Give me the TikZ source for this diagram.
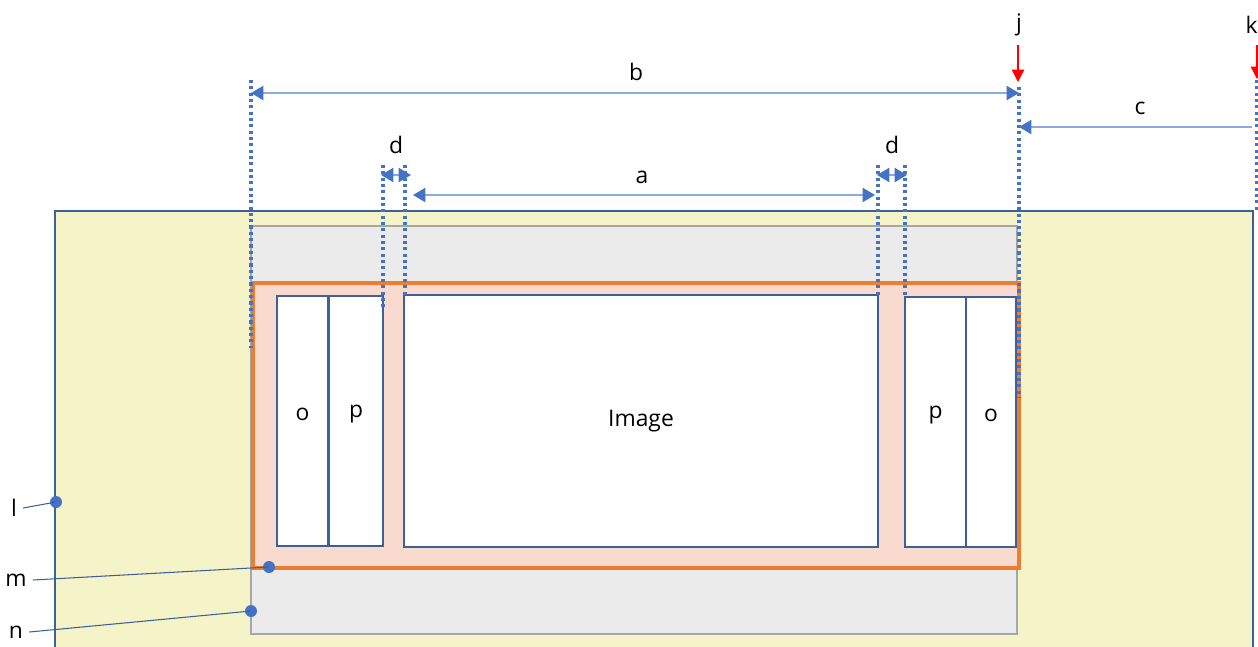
\documentclass[tikz,border=0pt]{standalone}
\usepackage{fontspec}
\setmainfont{Open Sans}
\usepackage{tikz}
\usetikzlibrary{positioning,arrows.meta}
\usepackage{xcolor}
\definecolor{padyellow}{RGB}{245,243,200}
\definecolor{framegray}{RGB}{235,235,235}
\definecolor{edgegray}{RGB}{166,166,166}
\definecolor{safesalmon}{RGB}{248,219,206}
\definecolor{safeorange}{RGB}{237,125,49}
\definecolor{boxnavy}{RGB}{63,95,154}
\definecolor{guideblue}{RGB}{68,114,196}
\definecolor{dimblue}{RGB}{143,170,220}

\begin{document}
\begin{tikzpicture}[x=0.02cm,y=-0.02cm,
  every node/.style={font=\fontsize{13}{15}\selectfont},
  panel/.style={rectangle,draw=boxnavy,line width=1.1pt,fill=white,inner sep=0pt},
  guide/.style={guideblue,line width=2pt,dash pattern=on 1.8pt off 1.8pt},
  dimline/.style={dimblue,line width=1pt},
  tip/.tip={Triangle[length=7pt,width=8pt,color=guideblue]},
  marker/.style={-{Triangle[length=7pt,width=7pt]},red,line width=0.7pt},
  dot/.style={circle,fill=guideblue,inner sep=0pt,minimum size=0.24cm},
  callout/.style={boxnavy,line width=0.6pt}]
\useasboundingbox (0,0) rectangle (1258,646);
% Pad area
\fill[padyellow] (55,211) rectangle (1253,660);
\draw[boxnavy,line width=1.2pt] (55,660) -- (55,211) -- (1253,211) -- (1253,660);
% Frame and safe area
\draw[edgegray,fill=framegray,line width=1.2pt] (251,226) rectangle (1017,634);
\draw[safeorange,fill=safesalmon,line width=2pt] (253,283) rectangle (1019,568);
% Panels
\node[panel,minimum width=1.02cm,minimum height=5cm] (oL) at (302.5,421) {};
\node[panel,minimum width=1.08cm,minimum height=5cm] (pL) at (356,421) {};
\node[panel,minimum width=9.48cm,minimum height=5.04cm] (img) at (641,421) {Image};
\node[panel,minimum width=1.22cm,minimum height=5cm] (pR) at (935.5,422) {};
\node[panel,minimum width=1cm,minimum height=5cm] (oR) at (991,422) {};
\node (txtOL) at ([yshift=4pt]oL.center) {o};
\node (txtPL) at ([yshift=4pt]pL.center) {p};
\node (txtPR) at ([yshift=4pt]pR.center) {p};
\node (txtOR) at ([yshift=4pt]oR.center) {o};
% Guides
\foreach \name/\x/\ya/\yb in {gB/251/80/348, gJ/1019/87/398, gD1/383/165/307, gD2/405/165/295,
                              gD3/878/165/295, gD4/905/165/297, gK/1257/80/210} {
  \coordinate (\name top) at (\x,\ya);
  \coordinate (\name bot) at (\x,\yb);
  \draw[guide] (\name top) -- (\name bot);
}
% Dimensions
\coordinate (bL) at (251,93);
\coordinate (bR) at (1019,93);
\draw[dimline,tip-tip] (bL) -- (bR);
\node (labB) at (636,72) {b};
\coordinate (aL) at (413,195);
\coordinate (aR) at (875,195);
\draw[dimline,tip-tip] (aL) -- (aR);
\node (labA) at (642,177) {a};
\foreach \i/\xa/\xb in {1/381/411, 2/877/907} {
  \coordinate (dL\i) at (\xa,175);
  \coordinate (dR\i) at (\xb,175);
  \draw[dimline,tip-tip] (dL\i) -- (dR\i);
  \node (labD\i) at ({(\xa+\xb)/2},145) {d};
}
\coordinate (cS) at (1252,127);
\coordinate (cE) at (1019,127);
\draw[dimline,-tip] (cS) -- (cE);
\node (labC) at (1140,108) {c};
% Edge markers
\node (labJ) at (1019,25) {j};
\node[anchor=east,inner xsep=0pt] (labK) at (1258,25) {k};
\coordinate (jS) at (1018,45);
\coordinate (jE) at (1018,82);
\coordinate (kS) at (1257,45);
\coordinate (kE) at (1257,79);
\draw[marker] (jS) -- (jE);
\draw[marker] (kS) -- (kE);
% Callouts
\node (labL) at (14,508) {l};
\node (labM) at (16,580) {m};
\node (labN) at (16,632) {n};
\node[dot] (dotL) at (56,502) {};
\node[dot] (dotM) at (269,567) {};
\node[dot] (dotN) at (251,611) {};
\draw[callout] (labL.east) -- (dotL.center);
\draw[callout] (labM.east) -- (dotM.center);
\draw[callout] (labN.east) -- (dotN.center);
\end{tikzpicture}
\end{document}
